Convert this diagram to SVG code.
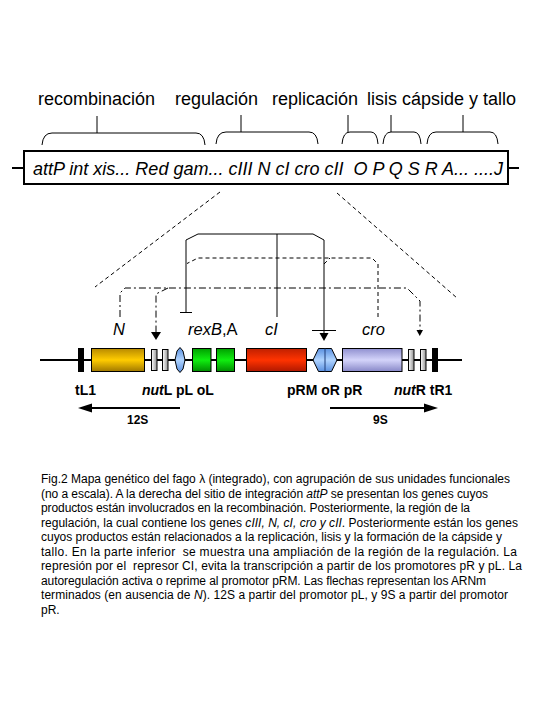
<svg xmlns="http://www.w3.org/2000/svg" width="540" height="720" viewBox="0 0 540 720">
<style>
text{font-family:"Liberation Sans",Arial,sans-serif;fill:#000}
.top{font-size:18px}
.box{font-size:18px;font-style:italic;white-space:pre}
.gl{font-size:16.5px;font-style:italic}
.bl{font-size:14px;font-weight:bold}
.sl{font-size:12px;font-weight:bold}
.cap{font-size:12px;white-space:pre}
.i{font-style:italic}
.n{font-style:normal}
.thin{fill:none;stroke:#000;stroke-width:1}
.dash{stroke-dasharray:4 3}
.dd{stroke-dasharray:7 3 2 3}
.gene{stroke:#000;stroke-width:1}
.blk{fill:#000}
</style>
<defs>
<linearGradient id="gGold" x1="0" y1="0" x2="0" y2="1"><stop offset="0" stop-color="#b88a00"/><stop offset="0.5" stop-color="#ffcc00"/><stop offset="1" stop-color="#a07800"/></linearGradient>
<linearGradient id="gGreen" x1="0" y1="0" x2="0" y2="1"><stop offset="0" stop-color="#00a000"/><stop offset="0.5" stop-color="#10ee10"/><stop offset="1" stop-color="#008c00"/></linearGradient>
<linearGradient id="gRed" x1="0" y1="0" x2="0" y2="1"><stop offset="0" stop-color="#c02000"/><stop offset="0.5" stop-color="#ff3300"/><stop offset="1" stop-color="#b01800"/></linearGradient>
<linearGradient id="gLav" x1="0" y1="0" x2="0" y2="1"><stop offset="0" stop-color="#9090d0"/><stop offset="0.5" stop-color="#d4d4fa"/><stop offset="1" stop-color="#8888c8"/></linearGradient>
<linearGradient id="gGray" x1="0" y1="0" x2="1" y2="0"><stop offset="0" stop-color="#ffffff"/><stop offset="1" stop-color="#909090"/></linearGradient>
<linearGradient id="gBlue" x1="0" y1="0" x2="0" y2="1"><stop offset="0" stop-color="#5a90e0"/><stop offset="0.5" stop-color="#b0d4ff"/><stop offset="1" stop-color="#5a90e0"/></linearGradient>
</defs>
<rect width="540" height="720" fill="#fff"/>

<g id="func-recombinacion">
<text class="top" x="38" y="105">recombinación</text>
<path class="thin" d="M97,116V133M42,145Q43,133 52,133L196,133Q204,133 205,145"/>
</g>
<g id="func-regulacion">
<text class="top" x="175" y="105">regulación</text>
<path class="thin" d="M241,115V132M216,144Q217,132 226,132L309,132Q317,132 318,144"/>
</g>
<g id="func-replicacion">
<text class="top" x="272" y="105">replicación</text>
<path class="thin" d="M348,115V132M342,144Q343,132 350,132L371,132Q377,132 378,144"/>
</g>
<g id="func-lisis">
<text class="top" x="367" y="105">lisis</text>
<path class="thin" d="M391,115V132M383,144Q384,132 391,132L414,132Q420,132 421,144"/>
</g>
<g id="func-capside">
<text class="top" x="402" y="105">cápside y tallo</text>
<path class="thin" d="M463,115V132M427,144Q428,132 436,132L490,132Q497,132 498,144"/>
</g>

<g id="genome-map">
<path d="M12,168H23M509,168H519" stroke="#000" stroke-width="2"/>
<rect x="24" y="151" width="484" height="33" fill="#fff" stroke="#000" stroke-width="2"/>
<text class="box" x="33" y="175">attP int xis... Red gam... cIII N cI cro cII  O P Q S R A... ....J</text>
</g>

<g id="regulation-map">
<path d="M40,360H462" stroke="#000" stroke-width="2"/>
<g id="tL1"><rect class="blk" x="78" y="348" width="6" height="24"/></g>
<g id="gene-N"><rect class="gene" x="91.5" y="348.5" width="53" height="23" fill="url(#gGold)"/></g>
<g id="nutL"><rect class="gene" x="151.5" y="349.5" width="5.5" height="21" fill="url(#gGray)"/><rect class="gene" x="162.5" y="349.5" width="5.5" height="21" fill="url(#gGray)"/></g>
<g id="pL"><path class="gene" d="M175,360L177,351L180,347.5L183,351L185,360L183,369L180,372.5L177,369Z" fill="url(#gBlue)" stroke="#3a6ab0"/></g>
<g id="gene-rexB"><rect class="gene" x="192.5" y="348.5" width="18.5" height="23" fill="url(#gGreen)"/></g>
<g id="gene-rexA"><rect class="gene" x="216.5" y="348.5" width="18" height="23" fill="url(#gGreen)"/></g>
<g id="gene-cI"><rect class="gene" x="246.5" y="348.5" width="60" height="23" fill="url(#gRed)"/></g>
<g id="oR"><path class="gene" d="M313,360L318.5,348.5L331.5,348.5L337,360L331.5,371.5L318.5,371.5Z" fill="url(#gBlue)" stroke="#1e3c78"/><path d="M325,348.5V371.5" stroke="#1e3c78" stroke-width="1"/></g>
<g id="gene-cro"><rect class="gene" x="342.5" y="348.5" width="59.5" height="23" fill="url(#gLav)"/></g>
<g id="nutR"><rect class="gene" x="408.5" y="349.5" width="5.5" height="21" fill="url(#gGray)"/><rect class="gene" x="420.5" y="349.5" width="5.5" height="21" fill="url(#gGray)"/></g>
<g id="tR1"><rect class="blk" x="432" y="348" width="6" height="24"/></g>
</g>

<g id="gene-labels">
<text class="gl" x="113" y="335">N</text>
<text class="gl" x="188" y="335">rexB<tspan class="n">,A</tspan></text>
<text class="gl" x="265" y="335">cI</text>
<text class="gl" x="362" y="335">cro</text>
<text class="bl" x="75" y="395">tL1</text>
<text class="bl" x="142" y="395"><tspan class="i">nut</tspan>L pL oL</text>
<text class="bl" x="287" y="395">pRM oR pR</text>
<text class="bl" x="394" y="395"><tspan class="i">nut</tspan>R tR1</text>
</g>

<g id="transcript-12S">
<path d="M91,408H180" stroke="#000" stroke-width="2"/>
<polygon points="78,408 92,403.5 92,412.5" fill="#000"/>
<text class="sl" x="127" y="424">12S</text>
</g>
<g id="transcript-9S">
<path d="M330,408H425" stroke="#000" stroke-width="2"/>
<polygon points="438,408 424,403.5 424,412.5" fill="#000"/>
<text class="sl" x="373" y="424">9S</text>
</g>

<g id="connectors">
<path class="thin dash" d="M220,192L95,287M337,193L457,298"/>
<path class="thin" d="M186,312V240L198,234H313L324,240V333M277,234V317M180,312.5H192M312,330.5H336"/>
<polygon points="319.5,333 328.5,333 324,341" fill="#000"/>
<path class="thin dash" d="M378,317V264L372,258H198L187,263.5M324,264L330,258"/>
<path class="thin dd" d="M120,317V293L125,288H407L420,301V331M168,288L156,294V333"/>
<polygon points="151,332 161,332 156,340" fill="#000"/>
<polygon points="416.5,330 423,330 419.75,336" fill="#000"/>
</g>

<g id="caption">
<text class="cap" x="41" y="483" textLength="469">Fig.2 Mapa genético del fago λ (integrado), con agrupación de sus unidades funcionales</text>
<text class="cap" x="41" y="497.5" textLength="447">(no a escala). A la derecha del sitio de integración <tspan class="i">attP</tspan> se presentan los genes cuyos</text>
<text class="cap" x="41" y="512" textLength="429">productos están involucrados en la recombinación. Posteriormente, la región de la</text>
<text class="cap" x="41" y="526.5" textLength="477">regulación, la cual contiene los genes <tspan class="i">cIII, N, cI, cro y cII</tspan>. Posteriormente están los genes</text>
<text class="cap" x="41" y="541" textLength="461">cuyos productos están relacionados a la replicación, lisis y la formación de la cápside y</text>
<text class="cap" x="41" y="555.5" textLength="476">tallo. En la parte inferior  se muestra una ampliación de la región de la regulación. La</text>
<text class="cap" x="41" y="570" textLength="481">represión por el  represor CI, evita la transcripción a partir de los promotores pR y pL. La</text>
<text class="cap" x="41" y="584.5" textLength="445">autoregulación activa o reprime al promotor pRM. Las flechas representan los ARNm</text>
<text class="cap" x="41" y="599" textLength="467">terminados (en ausencia de <tspan class="i">N</tspan>). 12S a partir del promotor pL, y 9S a partir del promotor</text>
<text class="cap" x="41" y="613.5">pR.</text>
</g>
</svg>
